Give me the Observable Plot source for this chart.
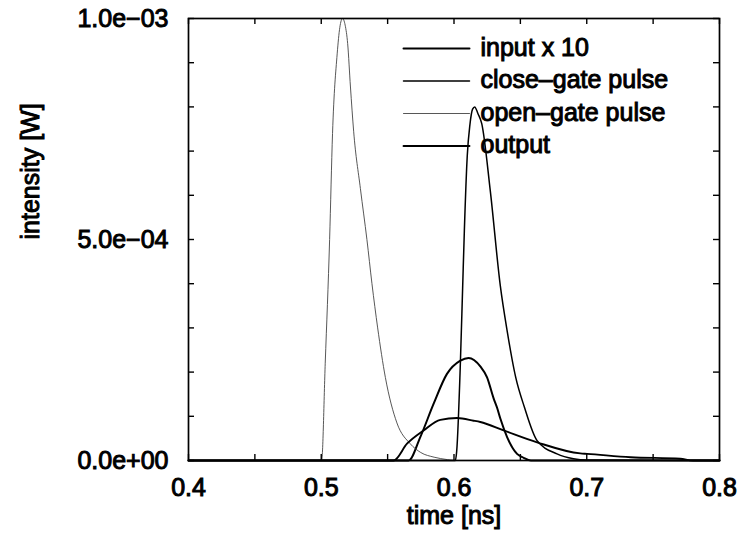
<!DOCTYPE html>
<html><head><meta charset="utf-8">
<script src="https://cdn.jsdelivr.net/npm/d3@7"></script>
<script src="https://cdn.jsdelivr.net/npm/@observablehq/plot@0.6"></script>
<style>
body{margin:0;background:#fff}
#chart svg text{stroke:#000;stroke-width:1px;paint-order:stroke}
</style>
</head><body><div id="chart"></div>
<script>
// time [ns] and intensity [mW]
const inputT  = [0.40, 0.5658, 0.5746, 0.5846, 0.5947, 0.6048, 0.611, 0.6198, 0.6249, 0.6299, 0.6324, 0.6349, 0.640, 0.6475, 0.6525, 0.658, 0.80];
const inputV  = [0, 0, 0.053, 0.128, 0.196, 0.226, 0.232, 0.213, 0.188, 0.140, 0.120, 0.095, 0.053, 0.015, 0.006, 0, 0];

const closeT  = [0.40, 0.601, 0.602, 0.6048, 0.6065, 0.6078, 0.610, 0.612, 0.614, 0.6156, 0.618, 0.6209, 0.6273, 0.6349, 0.640, 0.6465, 0.653, 0.6626, 0.6776, 0.690, 0.700, 0.80];
const closeV  = [0, 0, 0.02, 0.22, 0.39, 0.52, 0.69, 0.76, 0.795, 0.80, 0.785, 0.762, 0.611, 0.395, 0.294, 0.188, 0.121, 0.045, 0.015, 0.004, 0.001, 0];

const openT   = [0.40, 0.5003, 0.503, 0.5063, 0.5085, 0.512, 0.514, 0.516, 0.518, 0.5199, 0.522, 0.5244, 0.5295, 0.5344, 0.5382, 0.5425, 0.5483, 0.557, 0.567, 0.575, 0.585, 0.595, 0.600, 0.80];
const openV   = [0, 0, 0.22, 0.50, 0.74, 0.92, 0.98, 1.00, 0.985, 0.943, 0.845, 0.745, 0.615, 0.50, 0.40, 0.30, 0.188, 0.085, 0.038, 0.018, 0.0075, 0.002, 0, 0];

const outputT = [0.40, 0.5545, 0.5646, 0.5771, 0.5897, 0.6023, 0.6148, 0.6198, 0.6374, 0.6626, 0.6952, 0.7003, 0.733, 0.7705, 0.780, 0.80];
const outputV = [0, 0, 0.038, 0.068, 0.092, 0.096, 0.090, 0.087, 0.068, 0.041, 0.016, 0.015, 0.0075, 0.004, 0, 0];

const seriesNames = ["input x 10", "close–gate pulse", "open–gate pulse", "output"];
const xMajor = [0.4, 0.5, 0.6, 0.7, 0.8];
const xMinor = [0.4, 0.45, 0.5, 0.55, 0.6, 0.65, 0.7, 0.75, 0.8];
const yMajor = [0, 5e-4, 1e-3];
const yMinor = [0, 1e-4, 2e-4, 3e-4, 4e-4, 5e-4, 6e-4, 7e-4, 8e-4, 9e-4, 1e-3];

const styles = [
  {stroke: "#000", width: 2.0},
  {stroke: "#000", width: 1.5},
  {stroke: "#444", width: 0.9},
  {stroke: "#000", width: 1.9}
];
const raw = [[inputT, inputV], [closeT, closeV], [openT, openV], [outputT, outputV]];
const rows = raw.map(([T, V], k) => T.map((t, i) => ({series: seriesNames[k], t, v: V[i] * 1e-3})));

const W = 741, H = 535, mL = 188, mR = 22, mT = 18, mB = 75;
const plotW = W - mL - mR, plotH = H - mT - mB, tick = 6;

const fmtY = d => {
  const [m, e] = d.toExponential(1).split("e");
  return m + "e" + (e[0] === "-" ? "−" : "+") + e.slice(1).padStart(2, "0");
};
const lineShape = {draw(ctx, l) { ctx.moveTo(0, 0); ctx.lineTo(l, 0); }};

const legendMarks = seriesNames.flatMap((name, i) => [
  Plot.vector([0], {frameAnchor: "top-left", dx: 215, dy: 30 + i * 32.5, length: 66, anchor: "start",
    shape: lineShape, stroke: styles[i].stroke, strokeWidth: styles[i].width}),
  Plot.text([name], {frameAnchor: "top-left", dx: 292, dy: 29 + i * 32.5, textAnchor: "start", lineAnchor: "middle", fill: "#000"})
]);

const chart = Plot.plot({
  width: W, height: H,
  marginLeft: mL, marginRight: mR, marginTop: mT, marginBottom: mB,
  x: {domain: [0.4, 0.8]},
  y: {domain: [0, 1e-3]},
  style: {fontFamily: "'Liberation Sans', Arial, sans-serif", fontSize: "25px", color: "#000", background: "#fff"},
  marks: [
    ...rows.map((r, k) => Plot.line(r, {x: "t", y: "v", curve: "monotone-x", stroke: styles[k].stroke, strokeWidth: styles[k].width})),
    Plot.tickX(xMinor, {x: d => d, insetTop: plotH - tick, stroke: "#000", strokeWidth: 1.4}),
    Plot.tickX(xMinor, {x: d => d, insetBottom: plotH - tick, stroke: "#000", strokeWidth: 1.4}),
    Plot.tickY(yMinor, {y: d => d, insetRight: plotW - tick, stroke: "#000", strokeWidth: 1.4}),
    Plot.tickY(yMinor, {y: d => d, insetLeft: plotW - tick, stroke: "#000", strokeWidth: 1.4}),
    Plot.frame({stroke: "#000", strokeWidth: 1.7}),
    Plot.axisX({anchor: "bottom", ticks: xMajor, tickSize: 0, tickPadding: 18, tickFormat: d => d.toFixed(1), label: null}),
    Plot.axisY({anchor: "left", ticks: yMajor, tickSize: 0, tickPadding: 20, tickFormat: fmtY, label: null}),
    Plot.text(["time [ns]"], {frameAnchor: "bottom", dy: 55, lineAnchor: "middle", fill: "#000"}),
    Plot.text(["intensity [W]"], {frameAnchor: "left", dx: -158, rotate: -90, lineAnchor: "middle", fill: "#000"}),
    ...legendMarks
  ]
});
document.getElementById("chart").append(chart);
</script>
</body></html>
